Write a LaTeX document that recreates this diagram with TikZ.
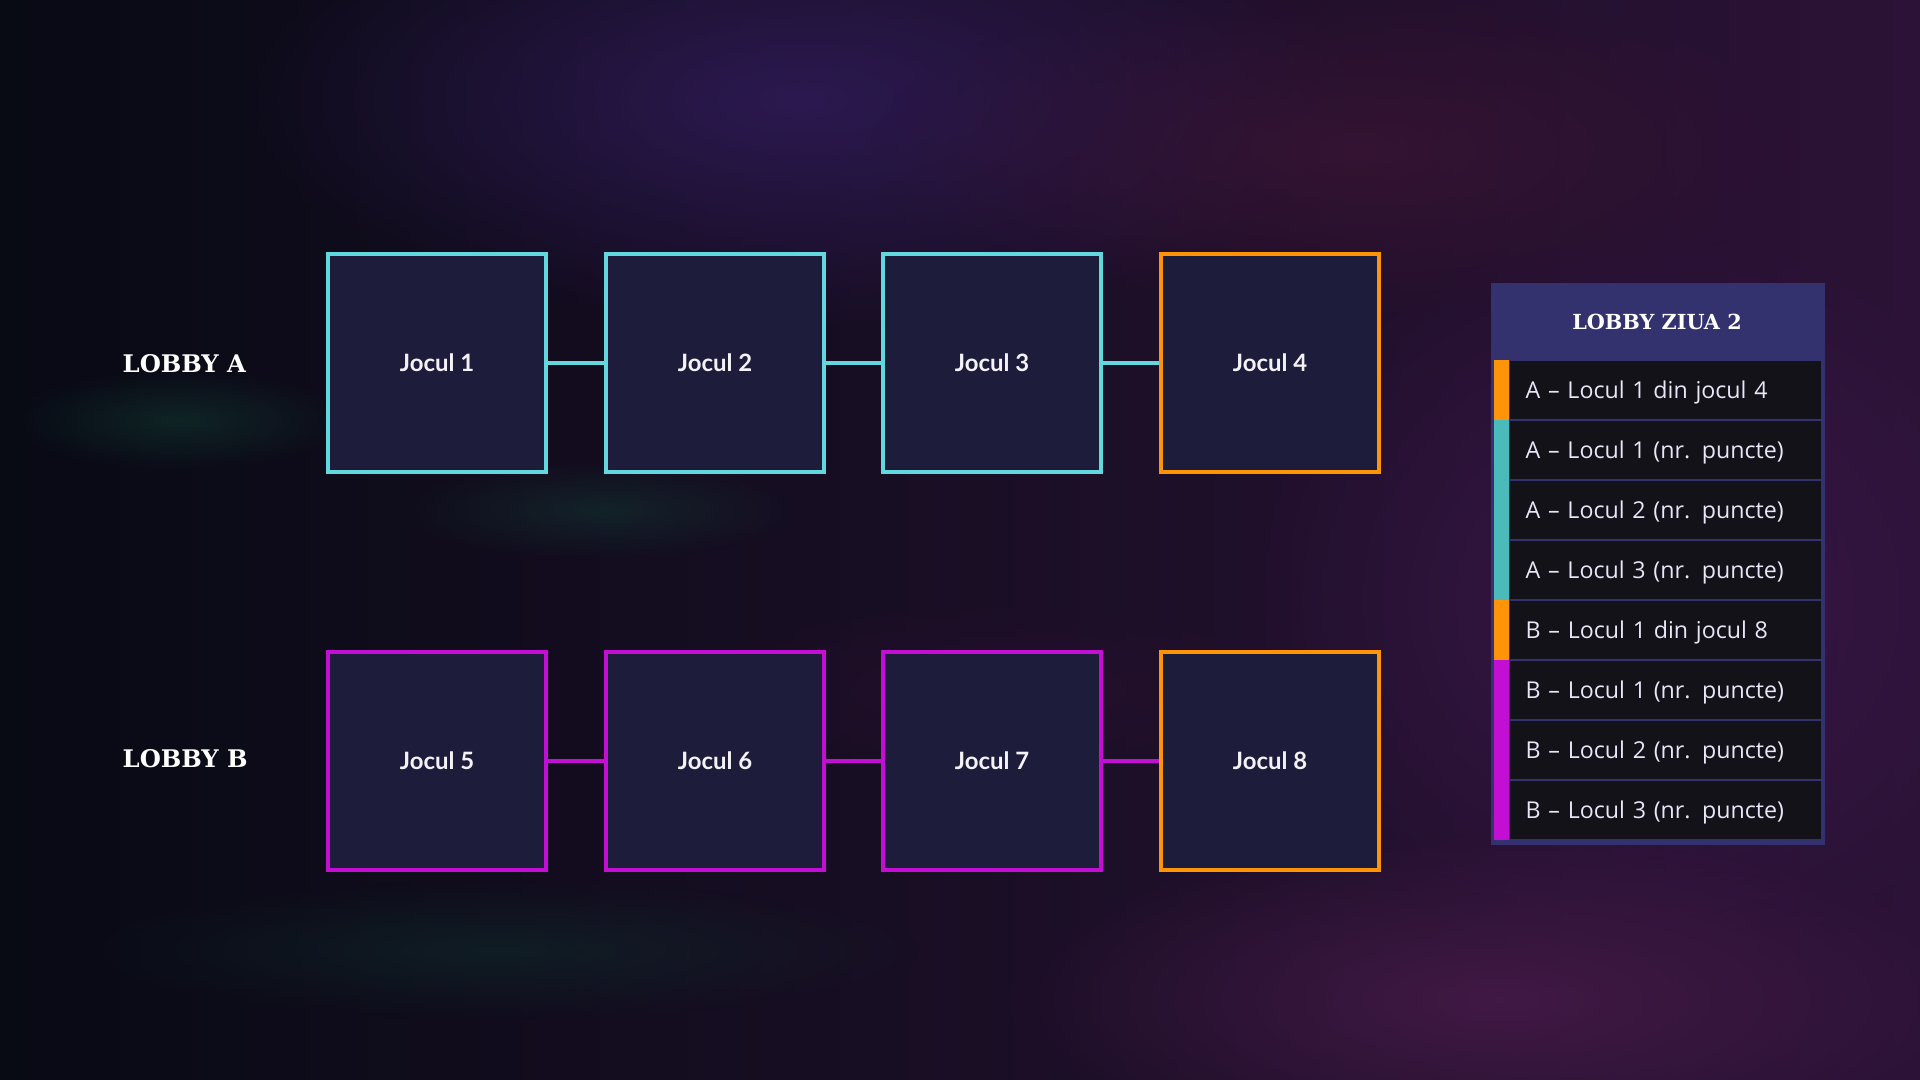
\documentclass[tikz,border=0pt]{standalone}
\usepackage{fontspec}
\setmainfont{Open Sans}
\newfontfamily\headfont{DejaVu Serif}
\newfontfamily\gamefont{Lato}
\usetikzlibrary{fadings}

\definecolor{lobbyA}{HTML}{62D8DE}
\definecolor{lobbyB}{HTML}{C30FD3}
\definecolor{final}{HTML}{FF9408}
\definecolor{stripA}{HTML}{4BBABA}
\definecolor{boxfill}{HTML}{1E1C3B}
\definecolor{rowfill}{HTML}{131219}
\definecolor{panel}{HTML}{33316E}
\definecolor{rowtext}{HTML}{E8E6F7}
\definecolor{gametext}{HTML}{F2F2F7}
\definecolor{bgleft}{HTML}{080A14}
\definecolor{bgright}{HTML}{2B1236}

\tikzfading[name=softglow, inner color=transparent!0, outer color=transparent!100]

\begin{document}
\begin{tikzpicture}
[x=0.01cm, y=-0.01cm,
  gameDecorate/.style={shape=rectangle, minimum size=2.18cm, inner sep=0pt,
    line width=0.04cm, draw=#1, fill=boxfill, text=gametext,
    font=\gamefont\bfseries\fontsize{6.8pt}{8pt}\selectfont},%
  lineDecorate/.style={-, line width=0.04cm, draw=#1},%
  lobbyDecorate/.style={anchor=west, inner sep=0pt, text=white,
    font=\headfont\bfseries\fontsize{6.9pt}{9pt}\selectfont},%
  headDecorate/.style={inner sep=0pt, text=white,
    font=\headfont\bfseries\fontsize{5.9pt}{8pt}\selectfont},%
  rowDecorate/.style={anchor=north west, shape=rectangle, fill=rowfill,
    minimum width=3.11cm, minimum height=0.58cm, text width=2.79cm,
    inner xsep=0.16cm, inner ysep=0pt, align=left, text=rowtext,
    text depth=0pt, font=\fontsize{6.6pt}{8pt}\selectfont},%
  blob/.style={path fading=softglow, fill=#1}]
\useasboundingbox (0,0) rectangle (1920,1080);
%% background
\shade[left color=bgleft, right color=bgright] (0,0) rectangle (1920,1080);
\begin{scope}
\clip (0,0) rectangle (1920,1080);
\foreach \x/\y/\rx/\ry/\c/\o in {
  800/100/560/230/2E1A55/0.9, 1350/150/480/170/3C1534/0.7,
  1650/600/420/380/40194F/0.7, 1500/1000/500/170/4E1D4E/0.7,
  180/420/170/50/123D33/0.5, 600/510/200/50/123D36/0.45,
  500/950/420/70/0E2E2C/0.5, 1000/690/330/90/2A1030/0.6}
{
  \definecolor{blobcol}{HTML}{\c}
  \fill[blob=blobcol, opacity=\o] (\x,\y) ellipse [x radius=\rx, y radius=\ry];
}
\end{scope}
%% lobby labels
\node (lobbyA) at (122,364) [lobbyDecorate] {LOBBY A};
\node (lobbyB) at (122,759) [lobbyDecorate] {LOBBY B};
%% games
\foreach \nodename/\x/\y/\c in {
  1/437/363/lobbyA, 2/715/363/lobbyA, 3/992/363/lobbyA, 4/1270/363/final,
  5/437/761/lobbyB, 6/715/761/lobbyB, 7/992/761/lobbyB, 8/1270/761/final}
{
  \node (j\nodename) at (\x,\y) [gameDecorate=\c] {Jocul \nodename};
}
%% links
\path
\foreach \startnode/\endnode/\c in {
  1/2/lobbyA, 2/3/lobbyA, 3/4/lobbyA, 5/6/lobbyB, 6/7/lobbyB, 7/8/lobbyB}
{
  (j\startnode) edge[lineDecorate=\c] (j\endnode)
};
%% legend panel
\node (panel) at (1490,282) [anchor=north west, shape=rectangle, fill=panel,
  minimum width=3.34cm, minimum height=5.62cm, inner sep=0pt] {};
\node (header) at (1657,322) [headDecorate] {LOBBY ZIUA 2};
\foreach \i/\c in {1/final, 2/stripA, 3/stripA, 4/stripA,
  5/final, 6/lobbyB, 7/lobbyB, 8/lobbyB}
{
  \fill[\c] (1494,{300+60*\i}) rectangle (1509,{360+60*\i});
}
\foreach \i/\txt in {
  1/A – Locul 1 din jocul 4, 2/A – Locul 1 (nr. puncte),
  3/A – Locul 2 (nr. puncte), 4/A – Locul 3 (nr. puncte),
  5/B – Locul 1 din jocul 8, 6/B – Locul 1 (nr. puncte),
  7/B – Locul 2 (nr. puncte), 8/B – Locul 3 (nr. puncte)}
{
  \node (row\i) at (1509,{300+60*\i}) [rowDecorate] {\txt};
}
\end{tikzpicture}
\end{document}
